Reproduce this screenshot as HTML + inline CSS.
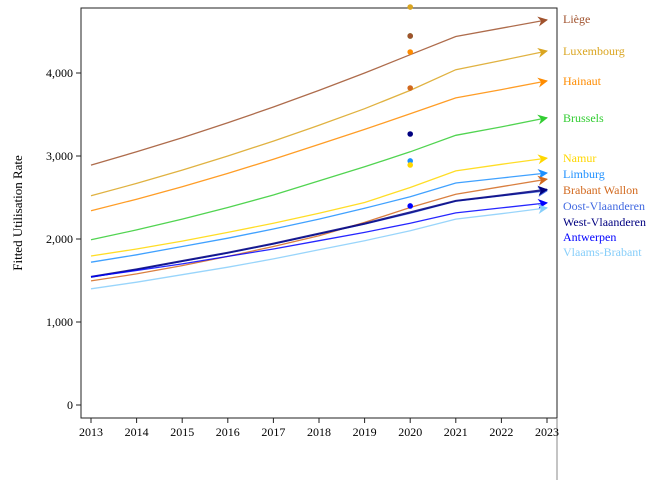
<!DOCTYPE html>
<html><head><meta charset="utf-8"><style>
body{margin:0;background:#fff;}
svg{font-family:"Liberation Serif",serif;}
</style></head><body>
<svg id="c" width="672" height="480" xmlns="http://www.w3.org/2000/svg"></svg>
<script>
const years=[2013,2014,2015,2016,2017,2018,2019,2020,2021,2022,2023];
const names=["Liège","Luxembourg","Hainaut","Brussels","Namur","Limburg","Brabant Wallon","Oost-Vlaanderen","West-Vlaanderen","Antwerpen","Vlaams-Brabant"];
const colors=["#a0522d","#daa520","#ff8c00","#32cd32","#ffd700","#1e90ff","#d2691e","#4169e1","#000080","#0000ff","#87cefa"];
const liege=[2890,3050,3220,3400,3590,3790,4000,4220,4440,4540,4640];
const luxembourg=[2520,2670,2830,3000,3180,3370,3570,3790,4040,4150,4265];
const hainaut=[2340,2480,2630,2790,2960,3140,3320,3510,3700,3800,3905];
const brussels=[1990,2110,2240,2380,2530,2700,2870,3050,3250,3350,3460];
const namur=[1795,1880,1975,2080,2190,2310,2440,2620,2820,2900,2975];
const limburg=[1720,1810,1910,2010,2120,2240,2370,2510,2675,2735,2795];
const brabantWallon=[1495,1580,1680,1790,1910,2040,2200,2380,2540,2630,2720];
const oostVlaanderen=[1540,1630,1730,1830,1940,2060,2180,2310,2455,2520,2580];
const westVlaanderen=[1545,1635,1735,1835,1945,2065,2185,2320,2460,2525,2595];
const antwerpen=[1545,1620,1700,1790,1880,1980,2080,2190,2315,2375,2435];
const vlaamsBrabant=[1400,1480,1570,1660,1760,1870,1980,2100,2240,2305,2375];
const series=[liege,luxembourg,hainaut,brussels,namur,limburg,brabantWallon,oostVlaanderen,westVlaanderen,antwerpen,vlaamsBrabant];
const dotValues=[4795,4446,4446,4253,3819,3265,2940,2892,2398];
const dotColors=["#daa520","#32cd32","#a0522d","#ff8c00","#d2691e","#000080","#1e90ff","#ffd700","#0000ff"];
const dotYear=2020;
const yTicks=[0,1000,2000,3000,4000];
const yTickLabels=["0","1,000","2,000","3,000","4,000"];
const labelY=[19,51,81,118,158,174,190,206,222,237,252];

const NS="http://www.w3.org/2000/svg";
const svg=document.getElementById("c");
function el(t,a,p){const e=document.createElementNS(NS,t);for(const k in a)e.setAttribute(k,a[k]);(p||svg).appendChild(e);return e;}
const X=y=>91+(y-2013)*45.6;
const Y=v=>405-v*0.083;

const defs=el("defs",{});
colors.forEach((c,i)=>{const m=el("marker",{id:"a"+i,viewBox:"0 0 10 10",refX:"9",refY:"5",markerWidth:"10",markerHeight:"10",orient:"auto",markerUnits:"userSpaceOnUse"},defs);
el("path",{d:"M0,0 L10,5 L0,10 L3,5 z",fill:c},m);});

const frame=el("rect",{x:81,y:8,width:476,height:410,fill:"none",stroke:"#222","stroke-width":1});


const sep=el("line",{x1:557,x2:557,y1:418,y2:480,stroke:"#888","stroke-width":1});



yTicks.forEach((v,i)=>{
 const t=el("line",{x1:76,x2:81,y1:Y(v),y2:Y(v),stroke:"#222"});
 
 
 const l=el("text",{x:73,y:Y(v)+4,"text-anchor":"end","font-size":"12",fill:"#000"});
 l.textContent=yTickLabels[i];
 
 
});
years.forEach(y=>{
 const t=el("line",{x1:X(y),x2:X(y),y1:418,y2:423,stroke:"#222"});
 
 
 const l=el("text",{x:X(y),y:436,"text-anchor":"middle","font-size":"12",fill:"#000"});
 l.textContent=y;
 
 
});
const yt=el("text",{x:0,y:0,transform:"translate(22,213) rotate(-90)","text-anchor":"middle","font-size":"13",fill:"#000"});
yt.textContent="Fitted Utilisation Rate";



series.forEach((s,i)=>{
 const d=s.map((v,j)=>(j?"L":"M")+X(years[j]).toFixed(1)+","+Y(v).toFixed(1)).join(" ");
 const p=el("path",{d:d,fill:"none",stroke:colors[i],"stroke-width":(i==8?2:1.3),"stroke-opacity":0.85,"marker-end":"url(#a"+i+")"});
 
 
 const l=el("text",{x:563,y:labelY[i]+4,"font-size":"12",fill:colors[i]});
 l.textContent=names[i];
 
 
});
dotValues.forEach((v,i)=>{
 const c=el("circle",{cx:X(dotYear),cy:Y(v),r:2.8,fill:dotColors[i]});
 
 
});
</script>
</body></html>
